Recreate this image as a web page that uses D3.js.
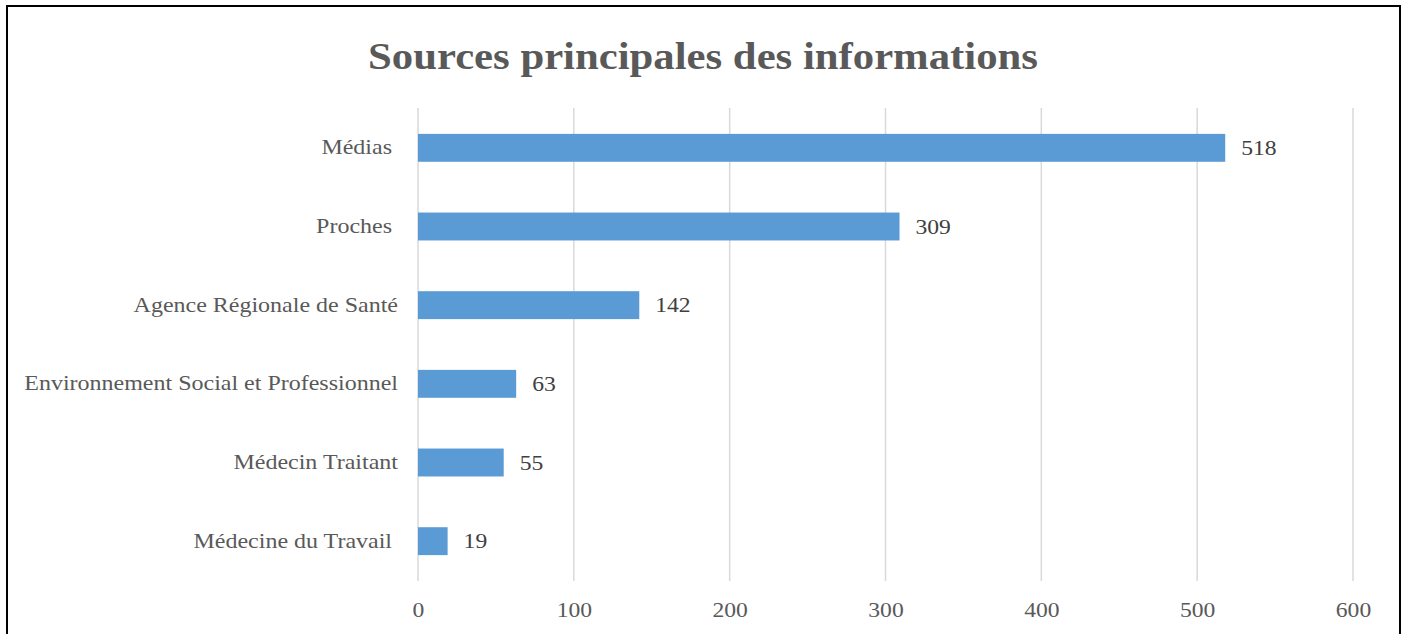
<!DOCTYPE html>
<html><head><meta charset="utf-8">
<script src="https://cdn.jsdelivr.net/npm/d3@7"></script>
<style>
html,body{margin:0;padding:0;background:#fff;}
svg{display:block;}
text{font-family:"Liberation Serif","Times New Roman",serif;}
</style></head>
<body><svg id="chart" width="1408" height="634"></svg>
<script>
const title = "Sources principales des informations";
const categories = ["Médias ", "Proches ", "Agence Régionale de Santé", "Environnement Social et Professionnel", "Médecin Traitant", "Médecine du Travail "];
const values = [518, 309, 142, 63, 55, 19];
const xTicks = [0, 100, 200, 300, 400, 500, 600];

const svg = d3.select("#chart");
svg.append("rect").attr("x", 7).attr("y", 6).attr("width", 1393).attr("height", 640)
  .attr("fill", "#fff").attr("stroke", "#000").attr("stroke-width", 2);

svg.append("text").attr("transform", "translate(703,69) scale(1.155,1)").attr("text-anchor", "middle")
  .attr("font-size", 37).attr("font-weight", "bold").attr("fill", "#595959").text(title);

const x = d3.scaleLinear().domain([0, 600]).range([418, 1353]);
const y = d3.scaleBand().domain(categories).range([108.5, 580.5]).paddingInner(0.645).paddingOuter(0.3225);

svg.append("g").selectAll("line").data(xTicks).join("line")
  .attr("x1", d => x(d)).attr("x2", d => x(d)).attr("y1", 108).attr("y2", 581)
  .attr("stroke", "#d9d9d9").attr("stroke-width", 1.5);

const xAxis = svg.append("g").attr("transform", "translate(0,581)")
  .call(d3.axisBottom(x).tickValues(xTicks).tickSize(0).tickPadding(22).tickFormat(d3.format("d")));
xAxis.select(".domain").remove();
xAxis.selectAll("text").attr("font-size", 20).attr("fill", "#595959")
  .attr("font-family", "'Liberation Serif','Times New Roman',serif")
  .attr("transform", "scale(1.18,1)");

svg.append("g").selectAll("rect").data(values).join("rect")
  .attr("x", x(0)).attr("y", (d, i) => y(categories[i]))
  .attr("width", d => x(d) - x(0)).attr("height", y.bandwidth()).attr("fill", "#5b9bd5");

svg.append("g").selectAll("text").data(values).join("text")
  .attr("transform", (d, i) => `translate(${x(d) + 16},${y(categories[i]) + y.bandwidth() / 2}) scale(1.18,1)`)
  .attr("dy", "0.35em").attr("font-size", 20).attr("fill", "#404040").text(d => d);

const yAxis = svg.append("g").attr("transform", "translate(398,0)")
  .call(d3.axisLeft(y).tickSize(0).tickPadding(0));
yAxis.select(".domain").remove();
yAxis.selectAll("text").attr("font-size", 20).attr("fill", "#595959")
  .attr("font-family", "'Liberation Serif','Times New Roman',serif")
  .attr("transform", "scale(1.2,1)")
  .style("white-space", "pre");
</script></body></html>
